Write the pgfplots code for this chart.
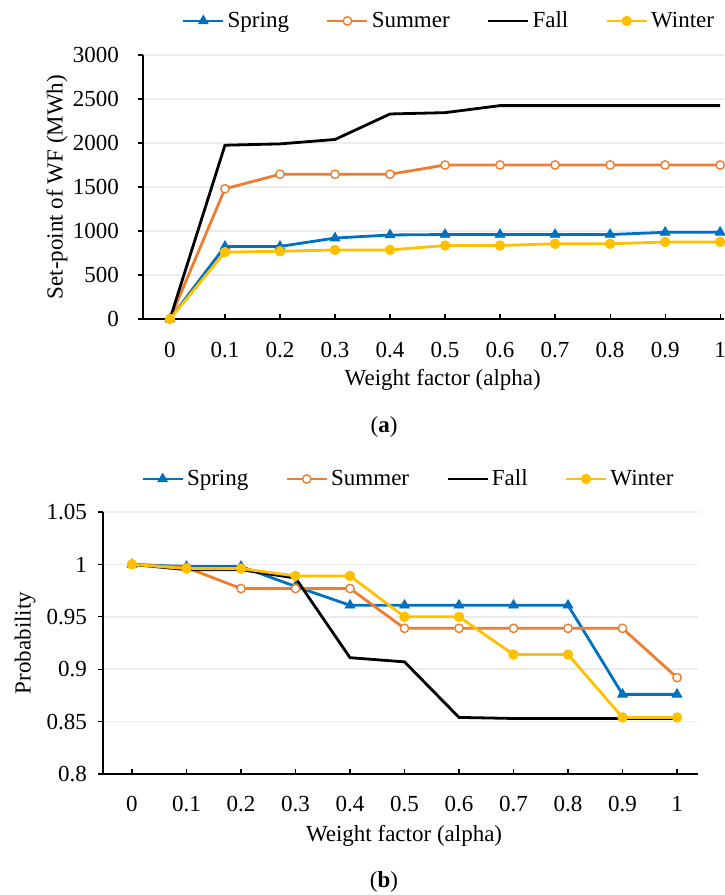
\documentclass[border=0pt]{standalone}
\usepackage{fontspec}
\setmainfont{Liberation Serif}
\usepackage{pgfplots}
\pgfplotsset{compat=1.18}

\definecolor{cspring}{HTML}{0070C0}
\definecolor{csummer}{HTML}{ED7D31}
\definecolor{cwinter}{HTML}{FFC000}
\definecolor{gridc}{HTML}{EDEDED}

\pgfplotsset{
  excel/.style={
    scale only axis,
    axis x line*=bottom,
    axis y line*=left,
    axis line style={line width=0.8pt},
    xtick align=inside,
    ytick align=outside,
    major tick length=2.5pt,
    tick style={line width=0.6pt, black},
    ymajorgrids,
    grid style={gridc, line width=0.8pt},
    xtick={0,...,10},
    xticklabels={0,0.1,0.2,0.3,0.4,0.5,0.6,0.7,0.8,0.9,1},
    clip=false,
    legend columns=4,
    legend style={draw=none, fill=none, anchor=center,
      nodes={inner sep=1.5pt},
      /tikz/every even column/.append style={column sep=17pt}},
    legend image code/.code={%
      \draw[mark repeat=2,mark phase=2,##1] plot coordinates {(0pt,0pt) (10pt,0pt) (20pt,0pt)};},
  },
  sspring/.style={cspring, line width=1.4pt, mark=triangle*, mark size=2.8pt,
    mark options={fill=cspring, line width=0.4pt}},
  ssummer/.style={csummer, line width=1.4pt, mark=*, mark size=2.1pt,
    mark options={fill=white, draw=csummer, line width=0.7pt}},
  sfall/.style={black, line width=1.4pt, mark=none},
  swinter/.style={cwinter, line width=1.4pt, mark=*, mark size=2.4pt,
    mark options={fill=cwinter, line width=0.4pt}},
}

\begin{document}
\begin{tikzpicture}[font=\fontsize{11.5}{13}\selectfont]
\path[use as bounding box] (0,0) rectangle (362pt,-447.5pt);

% (a) set-point of the wind farm
\begin{axis}[
    excel,
    at={(71.5pt,-159.5pt)}, anchor=south west,
    width=290.5pt, height=132pt,
    xmin=-0.49, xmax=10.07,
    ymin=0, ymax=3000,
    ytick={0,500,1000,1500,2000,2500,3000},
    yticklabels={0,500,1000,1500,2000,2500,3000},
    xticklabel style={yshift=-8pt},
    yticklabel style={xshift=-6pt},
    xlabel={Weight factor (alpha)},
    ylabel={Set-point of WF (MWh)},
    xlabel style={at={(axis description cs:0.516,-0.231)}, anchor=center},
    ylabel style={at={(axis description cs:-0.148,0.5)}, anchor=center},
    legend style={at={(axis description cs:0.5275,1.129)}},
]
\addplot[sspring] coordinates {(0,0) (1,825) (2,825) (3,920) (4,955) (5,960) (6,960) (7,960) (8,960) (9,985) (10,985)};
\addplot[ssummer] coordinates {(0,0) (1,1480) (2,1645) (3,1645) (4,1645) (5,1750) (6,1750) (7,1750) (8,1750) (9,1750) (10,1750)};
\addplot[sfall] coordinates {(0,0) (1,1975) (2,1990) (3,2040) (4,2330) (5,2345) (6,2425) (7,2425) (8,2425) (9,2425) (10,2425)};
\addplot[swinter] coordinates {(0,0) (1,760) (2,770) (3,785) (4,785) (5,835) (6,835) (7,855) (8,855) (9,875) (10,875)};
\legend{Spring,Summer,Fall,Winter}
\end{axis}
\node at (192pt,-213.5pt) {(\textbf{a})};

% (b) probability
\begin{axis}[
    excel,
    at={(51.5pt,-387pt)}, anchor=south west,
    width=297.5pt, height=131pt,
    xmin=-0.532, xmax=10.385,
    ymin=0.8, ymax=1.05,
    ytick={0.8,0.85,0.9,0.95,1,1.05},
    yticklabels={0.8,0.85,0.9,0.95,1,1.05},
    xticklabel style={yshift=-7.5pt},
    yticklabel style={xshift=-2pt},
    xlabel={Weight factor (alpha)},
    ylabel={Probability},
    xlabel style={at={(axis description cs:0.506,-0.237)}, anchor=center},
    ylabel style={at={(axis description cs:-0.131,0.5)}, anchor=center},
    legend style={at={(axis description cs:0.514,1.126)}},
]
\addplot[sspring] coordinates {(0,1.0) (1,0.998) (2,0.998) (3,0.979) (4,0.961) (5,0.961) (6,0.961) (7,0.961) (8,0.961) (9,0.876) (10,0.876)};
\addplot[ssummer] coordinates {(0,1.0) (1,0.997) (2,0.977) (3,0.977) (4,0.977) (5,0.939) (6,0.939) (7,0.939) (8,0.939) (9,0.939) (10,0.892)};
\addplot[sfall] coordinates {(0,1.0) (1,0.995) (2,0.995) (3,0.987) (4,0.911) (5,0.907) (6,0.854) (7,0.853) (8,0.853) (9,0.853) (10,0.853)};
\addplot[swinter] coordinates {(0,1.0) (1,0.996) (2,0.996) (3,0.989) (4,0.989) (5,0.950) (6,0.950) (7,0.914) (8,0.914) (9,0.854) (10,0.854)};
\legend{Spring,Summer,Fall,Winter}
\end{axis}
\node at (192pt,-441pt) {(\textbf{b})};
\end{tikzpicture}
\end{document}
